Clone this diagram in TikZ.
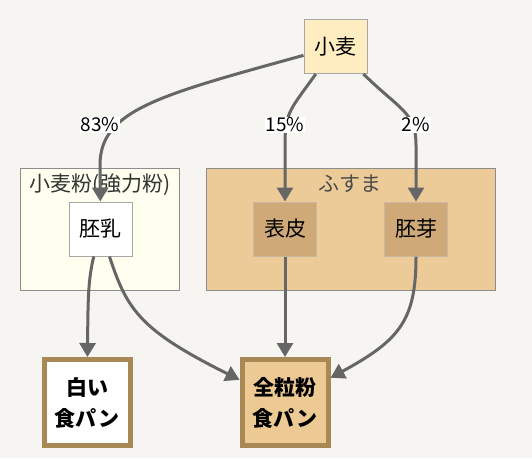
\documentclass[tikz,border=0pt]{standalone}
\usepackage{fontspec}
\setmainfont{Noto Sans CJK JP}
\usepackage{tikz}
\usetikzlibrary{arrows.meta}
\definecolor{bgcol}{HTML}{F6F5F2}
\definecolor{wheatcol}{HTML}{FFEDC2}
\definecolor{flourcol}{HTML}{FFFFF0}
\definecolor{brancol}{HTML}{ECCB98}
\definecolor{partcol}{HTML}{CFAA78}
\definecolor{breadcol}{HTML}{EDC994}
\definecolor{rimcol}{HTML}{A88855}
\definecolor{edgecol}{HTML}{666666}

\begin{document}
\begin{tikzpicture}[x=1pt,y=-1pt,
    box/.style={draw=black!35,line width=1pt,minimum width=63pt,minimum height=54pt,
        inner sep=0pt,font=\fontsize{21}{24}\selectfont},
    group/.style={draw=black!45,line width=1pt,inner sep=0pt},
    bread/.style={draw=rimcol,line width=5pt,minimum width=86pt,minimum height=86pt,
        inner sep=0pt,align=center,font=\fontsize{21}{31}\selectfont\bfseries},
    flow/.style={draw=edgecol,line width=3pt,-{Triangle[length=14pt,width=16pt]}},
    share/.style={fill=white,inner sep=1pt,font=\fontsize{19}{22}\selectfont}]
    \fill[bgcol] (0,0) rectangle (532,458);
    \useasboundingbox (0,0) rectangle (532,458);

    \node[group,fill=flourcol,minimum width=159pt,minimum height=122pt] (flour) at (99.5,229) {};
    \node[font=\fontsize{21}{24}\selectfont,text=black!80] (flourlab) at (100,185) {小麦粉(強力粉)};
    \node[group,fill=brancol,minimum width=289pt,minimum height=122pt] (bran) at (350.5,229) {};
    \node[font=\fontsize{21}{24}\selectfont,text=black!70] (branlab) at (350,184) {ふすま};

    \node[box,fill=wheatcol] (wheat) at (335.5,46.5) {小麦};
    \node[box,fill=white] (endo) at (100.5,229) {胚乳};
    \node[box,fill=partcol,draw=partcol!80!black!60] (husk) at (285,229) {表皮};
    \node[box,fill=partcol,draw=partcol!80!black!60] (germ) at (416,229) {胚芽};
    \node[bread,fill=white] (white) at (87,402.5) {白い\\食パン};
    \node[bread,fill=breadcol] (whole) at (285,402.5) {全粒粉\\食パン};

    \draw[flow] (wheat) .. controls (160,95) and (100,110) .. (100,165) -- (endo);
    \draw[flow] (wheat) .. controls (290,110) and (285,112) .. (285,145) -- (husk);
    \draw[flow] (wheat) .. controls (400,110) and (416,112) .. (416,145) -- (germ);
    \draw[flow] (endo) .. controls (88,280) and (88,300) .. (white);
    \draw[flow] (endo) .. controls (127,310) and (140,330) .. (whole);
    \draw[flow] (husk) -- (whole);
    \draw[flow] (germ) .. controls (416,320) and (400,340) .. (whole);

    \node[share] (p83) at (100,125) {83\%};
    \node[share] (p15) at (285,125) {15\%};
    \node[share] (p2) at (416,125) {2\%};
\end{tikzpicture}
\end{document}
